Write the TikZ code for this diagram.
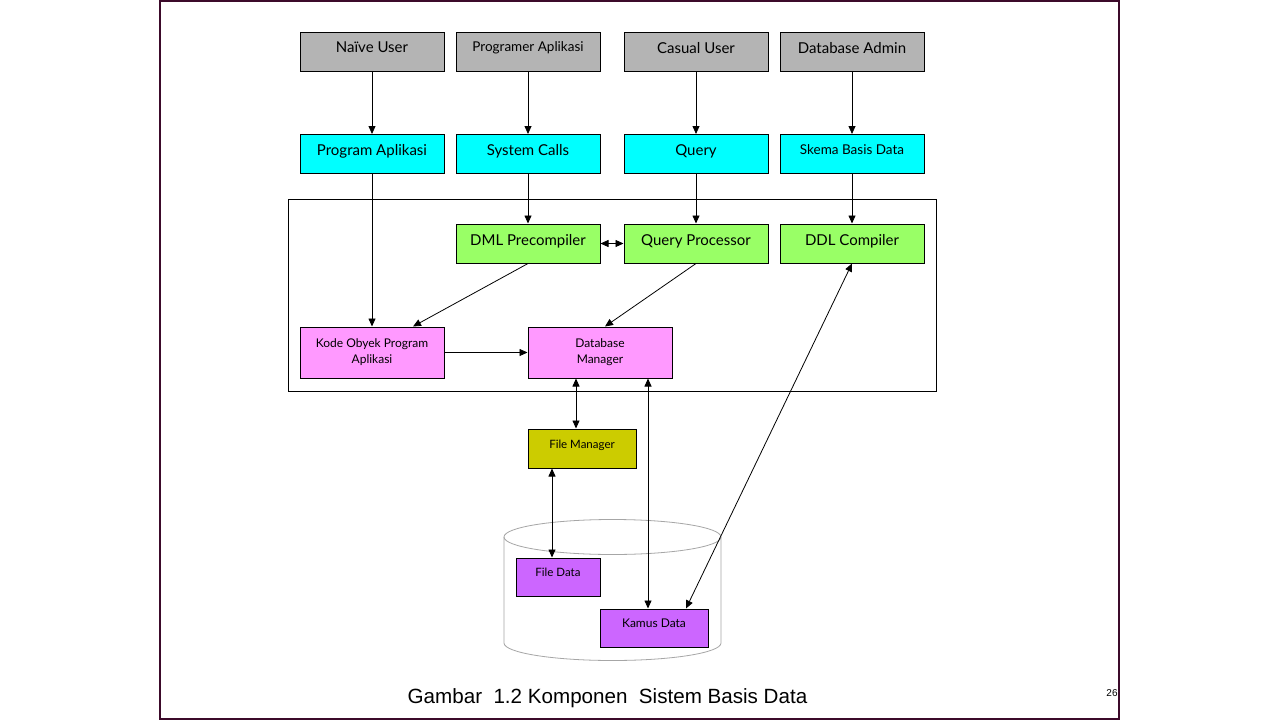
\documentclass[tikz,border=0pt]{standalone}
\usepackage{fontspec}
\setmainfont{Lato}
\newfontfamily\capfont{Liberation Sans}
\usetikzlibrary{arrows.meta}
\definecolor{slideframe}{HTML}{3C0A2A}
\definecolor{usergray}{HTML}{B4B4B4}
\definecolor{appcyan}{HTML}{00FFFF}
\definecolor{procgreen}{HTML}{99FF66}
\definecolor{mgrpink}{HTML}{FF99FF}
\definecolor{fileolive}{HTML}{CCCC00}
\definecolor{datapurple}{HTML}{CC66FF}
\tikzset{
  box/.style={draw=black, line width=1pt, rectangle, inner sep=0pt, align=center},
  wide/.style={minimum width=144pt, minimum height=39pt},
  user/.style={box, wide, fill=usergray},
  app/.style={box, wide, fill=appcyan},
  proc/.style={box, wide, fill=procgreen},
  mgr/.style={box, minimum width=144pt, minimum height=51pt, fill=mgrpink, font=\fontsize{12}{16}\selectfont},
  arr/.style={line width=0.8pt, -{Triangle[length=8pt,width=7pt]}},
  darr/.style={line width=0.8pt, {Triangle[length=8pt,width=7pt]}-{Triangle[length=8pt,width=7pt]}},
  big/.style={font=\fontsize{15}{18}\selectfont},
  mid/.style={font=\fontsize{13.5}{16}\selectfont},
  small/.style={font=\fontsize{11.5}{14}\selectfont},
}
\begin{document}
\begin{tikzpicture}[x=1pt,y=-1pt]
\useasboundingbox (0,0) rectangle (1280,720);
\fill[white] (0,0) rectangle (1280,720);
\draw[slideframe, line width=2pt] (160,1) rectangle (1119,719);

% cylinder
\draw[gray!70, line width=0.8pt, fill=white] (504,537) -- (504,643) arc[start angle=180, end angle=0, x radius=108.5, y radius=17.5] -- (721,537);
\draw[gray!70, line width=0.8pt] (612.5,537) ellipse[x radius=108.5, y radius=17.5];

% outer frame
\draw[line width=1pt] (288,199) rectangle (936,391);

% top row
\node[user, big] (nu) at (372,51.5) {\raisebox{8pt}{Naïve User}};
\node[user, mid] (pg) at (528,51.5) {\raisebox{9pt}{Programer Aplikasi}};
\node[user, big] (cu) at (696,51.5) {\raisebox{8pt}{Casual User}};
\node[user, big] (da) at (852,51.5) {\raisebox{8pt}{Database Admin}};

% second row
\node[app, big] (pa) at (372,154) {\raisebox{8pt}{Program Aplikasi}};
\node[app, big] (sc) at (528,154) {\raisebox{8pt}{System Calls}};
\node[app, big] (qu) at (696,154) {\raisebox{8pt}{Query}};
\node[app, mid] (sk) at (852,154) {\raisebox{9pt}{Skema Basis Data}};

% processors
\node[proc, big] (dml) at (528,243.5) {\raisebox{7pt}{DML Precompiler}};
\node[proc, big] (qp) at (696,243.5) {\raisebox{7pt}{Query Processor}};
\node[proc, big] (ddl) at (852,243.5) {\raisebox{7pt}{DDL Compiler}};

% managers
\node[mgr] (kode) at (372,352.5) {\raisebox{4pt}{\begin{tabular}{@{}c@{}}Kode Obyek Program\\Aplikasi\end{tabular}}};
\node[mgr] (dbm) at (600,352.5) {\raisebox{4pt}{\begin{tabular}{@{}c@{}}Database\\Manager\end{tabular}}};

\node[box, small, minimum width=108pt, minimum height=39pt, fill=fileolive] (fm) at (582,448.5) {\raisebox{9pt}{File Manager}};
\node[box, small, minimum width=84pt, minimum height=38pt, fill=datapurple] (fd) at (558,577) {\raisebox{9pt}{File Data}};
\node[box, font=\fontsize{12}{14}\selectfont, minimum width=108pt, minimum height=38pt, fill=datapurple] (kd) at (654,628) {\raisebox{9pt}{Kamus Data}};

% connectors
\draw[arr] (nu) -- (pa);
\draw[arr] (pg) -- (sc);
\draw[arr] (cu) -- (qu);
\draw[arr] (da) -- (sk);
\draw[arr] (pa) -- (kode);
\draw[arr] (sc) -- (dml);
\draw[arr] (qu) -- (qp);
\draw[arr] (sk) -- (ddl);
\draw[darr] (dml) -- (qp);
\draw[arr] (dml.south) -- ([xshift=41pt]kode.north);
\draw[arr] (qp.south) -- ([xshift=5pt]dbm.north);
\draw[arr] (kode.east) -- (dbm.west);
\draw[darr] ([xshift=-24pt]dbm.south) -- ([xshift=-24pt]dbm.south |- fm.north);
\draw[darr] ([xshift=48pt]dbm.south) -- ([xshift=48pt]dbm.south |- kd.north);
\draw[darr] ([xshift=-30pt]fm.south) -- ([xshift=-30pt]fm.south |- fd.north);
\draw[darr] (ddl.south) -- ([xshift=32pt]kd.north);

% caption
\node[font=\capfont\fontsize{20.6}{24}\selectfont] (cap) at (607.5,698) {Gambar\ \ 1.2 Komponen\ \ Sistem Basis Data};
\node[font=\capfont\fontsize{10}{12}\selectfont] (pn) at (1112,693) {26};
\end{tikzpicture}
\end{document}
